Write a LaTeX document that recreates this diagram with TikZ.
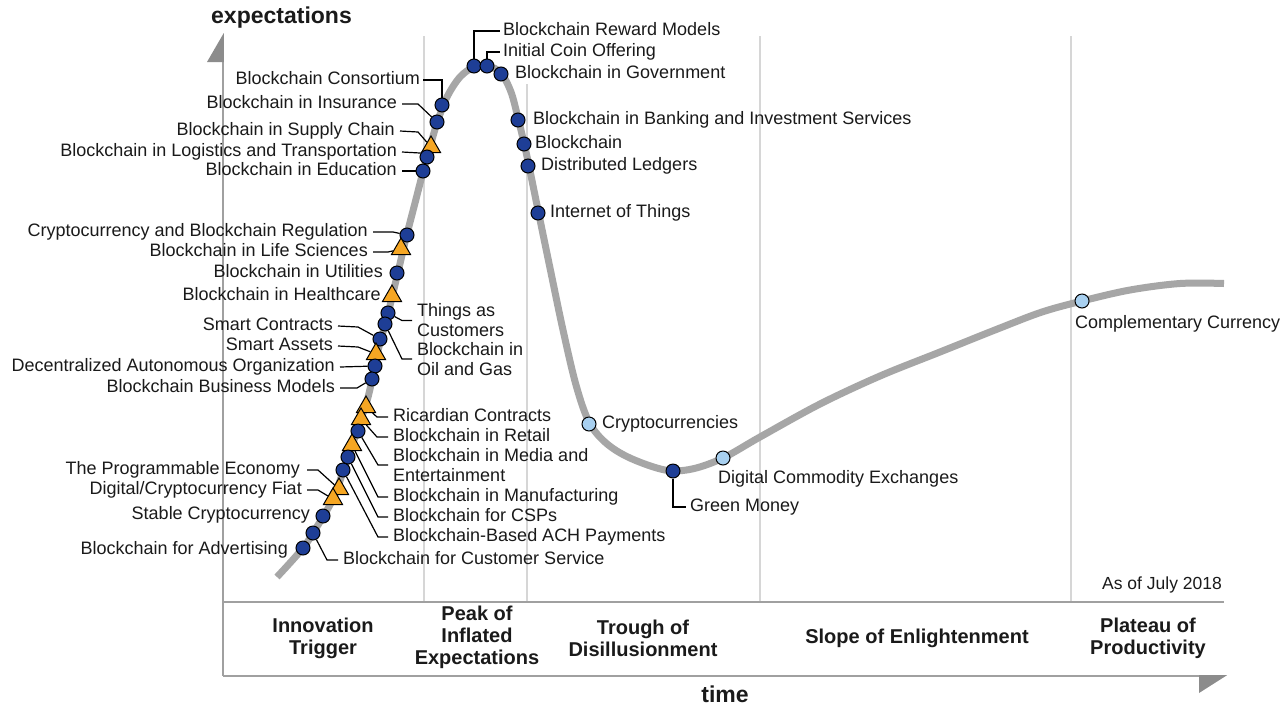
\documentclass[tikz,border=0pt]{standalone}
\usepackage{fontspec}
\setmainfont{Liberation Sans}
\usetikzlibrary{shapes.geometric}
\definecolor{txtc}{HTML}{1A1A1A}
\definecolor{dkblue}{RGB}{30,62,150}
\definecolor{ltblue}{RGB}{168,208,240}
\definecolor{orng}{RGB}{245,166,35}
\definecolor{curvec}{RGB}{166,166,166}
\definecolor{axisc}{RGB}{160,160,160}
\definecolor{arrowc}{RGB}{140,140,140}
\definecolor{sepc}{RGB}{214,214,214}
\pgfdeclarelayer{back}
\pgfdeclarelayer{mid}
\pgfsetlayers{back,mid,main}

\begin{document}
\begin{tikzpicture}[x=1pt,y=-1pt,
  lbl/.style={inner sep=0pt, text height=13pt, text depth=4pt,
    font=\fontsize{18}{20}\selectfont, text=txtc},
  lbltwo/.style={inner sep=0pt, align=left,
    font=\fontsize{18}{20}\selectfont, text=txtc},
  phase/.style={inner sep=0pt, align=center,
    font=\fontsize{20}{22}\selectfont\bfseries, text=txtc},
  axislabel/.style={inner sep=0pt, font=\fontsize{23}{26}\selectfont\bfseries, text=txtc},
  dotd/.style={circle, draw=black, line width=1pt, fill=dkblue,
    minimum size=14pt, inner sep=0pt},
  dotl/.style={dotd, fill=ltblue},
  tri/.style={regular polygon, regular polygon sides=3, draw=black,
    line width=1pt, fill=orng, minimum size=22pt, inner sep=0pt},
  leader/.style={draw=black, line width=1.2pt, line join=miter},
  sepline/.style={draw=sepc, line width=2pt},
  axisline/.style={draw=axisc, line width=2.5pt},
  hype/.style={draw=curvec, line width=7pt}
]
\useasboundingbox (0,0) rectangle (1284,705);

% ---- white sheet, phase separators, axes, arrowheads
\begin{pgfonlayer}{back}
  \fill[white] (0,0) rectangle (1284,705);
  \draw[sepline] (424,36) -- (424,602);
  \draw[sepline] (527,84) -- (527,602);
  \draw[sepline] (760,36) -- (760,602);
  \draw[sepline] (1071,36) -- (1071,602);
  \draw[axisline] (223,61) -- (223,676);
  \draw[axisline] (223,602) -- (1224,602);
  \draw[axisline] (223,676) -- (1200,676);
  \fill[arrowc] (223.8,33) -- (223.8,62) -- (207,62) -- cycle;
  \fill[arrowc] (1227,675.2) -- (1199,675.2) -- (1199,693) -- cycle;
\end{pgfonlayer}

\node[axislabel, anchor=west] (ylab) at (211,18) {expectations};
\node[axislabel] (xlab) at (725,694) {time};
\node[inner sep=0pt, anchor=east, text height=13pt, text depth=4pt,
  font=\fontsize{17.5}{20}\selectfont, text=txtc] (asof) at (1222,585) {As of July 2018};

% ---- phase names
\node[phase] (ph1) at (323,638) {Innovation\\Trigger};
\node[phase] (ph2) at (477,637) {Peak of\\Inflated\\Expectations};
\node[phase] (ph3) at (643,638) {Trough of\\Disillusionment};
\node[phase] (ph4) at (917,638) {Slope of Enlightenment};
\node[phase] (ph5) at (1148,638) {Plateau of\\Productivity};

% ---- hype cycle curve
\begin{pgfonlayer}{mid}
\draw[hype] plot[smooth, tension=0.55] coordinates {
  (277,577) (303,548) (318,525) (333,499) (343,472) (352,446) (361,419)
  (367,401) (372,380) (376,359) (381,339) (387,318) (393,293) (399,268)
  (406,238) (415,203) (423,172) (430,147) (437,123) (447,97) (460,77)
  (474,67) (488,66) (501,73) (511,92) (518,118) (524,143) (529,166)
  (538,210) (550,268) (563,330) (576,385) (589,422) (606,443) (630,458)
  (665,470) (692,469) (723,458) (760,437) (820,404) (880,376) (940,352)
  (1000,328) (1042,312) (1082,301) (1130,290) (1180,283.5) (1224,283.5)};
\end{pgfonlayer}

% ---- markers, peak and slide
\node[dotd] (mReward) at (474,66) {};
\node[dotd] (mICO) at (487,66) {};
\node[dotd] (mGov) at (501,74) {};
\node[dotd] (mBank) at (518,120) {};
\node[dotd] (mChain) at (524,144) {};
\node[dotd] (mDL) at (528,166) {};
\node[dotd] (mIoT) at (538,213) {};
\node[dotl] (mCryp) at (589,424) {};
\node[dotd] (mGreen) at (673,471) {};
\node[dotl] (mDCE) at (723,458) {};
\node[dotl] (mComp) at (1082,301) {};

% ---- markers, rising edge (top to bottom)
\node[dotd] (mCons) at (442,105) {};
\node[dotd] (mIns) at (437,122) {};
\node[tri] (mSupply) at (431,147) {};
\node[dotd] (mLogi) at (427,157) {};
\node[dotd] (mEdu) at (423,171) {};
\node[dotd] (mReg) at (407,235) {};
\node[tri] (mLife) at (401,249) {};
\node[dotd] (mUtil) at (397,273) {};
\node[tri] (mHealth) at (392,296) {};
\node[dotd] (mThings) at (388,313) {};
\node[dotd] (mOil) at (385,324) {};
\node[dotd] (mSContr) at (380,339) {};
\node[tri] (mSAssets) at (376,354) {};
\node[dotd] (mDAO) at (375,366) {};
\node[dotd] (mBBM) at (372,379) {};
\node[tri] (mRicard) at (366,407) {};
\node[tri] (mRetail) at (361,419) {};
\node[dotd] (mMedia) at (358,431) {};
\node[tri] (mManuf) at (352,445) {};
\node[dotd] (mCSP) at (348,457) {};
\node[dotd] (mACH) at (343,470) {};
\node[tri] (mProg) at (339,489) {};
\node[tri] (mFiat) at (333,499) {};
\node[dotd] (mStable) at (323,516) {};
\node[dotd] (mCust) at (313,533) {};
\node[dotd] (mAdv) at (303,548) {};

% ---- labels on the left of the curve
\node[lbl, anchor=east] (lCons) at (420,80) {Blockchain Consortium};
\node[lbl, anchor=east] (lIns) at (397,104) {Blockchain in Insurance};
\node[lbl, anchor=east] (lSupply) at (395,131) {Blockchain in Supply Chain};
\node[lbl, anchor=east] (lLogi) at (397,152) {Blockchain in Logistics and Transportation};
\node[lbl, anchor=east] (lEdu) at (397,171) {Blockchain in Education};
\node[lbl, anchor=east] (lReg) at (368,232) {Cryptocurrency and Blockchain Regulation};
\node[lbl, anchor=east] (lLife) at (368,252) {Blockchain in Life Sciences};
\node[lbl, anchor=east] (lUtil) at (383,273) {Blockchain in Utilities};
\node[lbl, anchor=east] (lHealth) at (381,296) {Blockchain in Healthcare};
\node[lbl, anchor=east] (lSContr) at (333,326) {Smart Contracts};
\node[lbl, anchor=east] (lSAssets) at (333,346) {Smart Assets};
\node[lbl, anchor=east] (lDAO) at (335,367) {Decentralized Autonomous Organization};
\node[lbl, anchor=east] (lBBM) at (335,388) {Blockchain Business Models};
\node[lbl, anchor=east] (lProg) at (300,470) {The Programmable Economy};
\node[lbl, anchor=east] (lFiat) at (302,490) {Digital/Cryptocurrency Fiat};
\node[lbl, anchor=east] (lStable) at (310,515) {Stable Cryptocurrency};
\node[lbl, anchor=east] (lAdv) at (288,550) {Blockchain for Advertising};

% ---- labels on the right of the curve
\node[lbl, anchor=west] (lReward) at (503,31) {Blockchain Reward Models};
\node[lbl, anchor=west] (lICO) at (503,52) {Initial Coin Offering};
\node[lbl, anchor=west] (lGov) at (515,74) {Blockchain in Government};
\node[lbl, anchor=west] (lBank) at (533,120) {Blockchain in Banking and Investment Services};
\node[lbl, anchor=west] (lChain) at (535,144) {Blockchain};
\node[lbl, anchor=west] (lDL) at (541,166) {Distributed Ledgers};
\node[lbl, anchor=west] (lIoT) at (550,213) {Internet of Things};
\node[lbltwo, anchor=west] (lThings) at (417,320.5) {Things as\\Customers};
\node[lbltwo, anchor=west] (lOil) at (417,359) {Blockchain in\\Oil and Gas};
\node[lbl, anchor=west] (lRicard) at (393,417) {Ricardian Contracts};
\node[lbl, anchor=west] (lRetail) at (393,437) {Blockchain in Retail};
\node[lbltwo, anchor=west] (lMedia) at (393,465) {Blockchain in Media and\\Entertainment};
\node[lbl, anchor=west] (lManuf) at (393,497) {Blockchain in Manufacturing};
\node[lbl, anchor=west] (lCSP) at (393,517) {Blockchain for CSPs};
\node[lbl, anchor=west] (lACH) at (393,537) {Blockchain-Based ACH Payments};
\node[lbl, anchor=west] (lCust) at (343,560) {Blockchain for Customer Service};
\node[lbl, anchor=west] (lCryp) at (602,424) {Cryptocurrencies};
\node[lbl, anchor=west] (lGreen) at (690,507) {Green Money};
\node[lbl, anchor=west] (lDCE) at (718,479) {Digital Commodity Exchanges};
\node[lbl, anchor=west] (lComp) at (1075,324) {Complementary Currency};

% ---- leader lines
\begin{pgfonlayer}{mid}
\draw[leader] ([xshift=3pt]lCons.east) -| (mCons);
\draw[leader] ([xshift=5pt]lIns.east) -- ++(16,0) -- (mIns);
\draw[leader] ([xshift=5pt]lSupply.east) -- ++(18,1) -- (mSupply);
\draw[leader] ([xshift=5pt]lLogi.east) -- ++(18,1) -- (mLogi);
\draw[leader] ([xshift=5pt]lEdu.east) -- (mEdu);
\draw[leader] ([xshift=5pt]lReg.east) -- ++(20,0) -- (mReg);
\draw[leader] ([xshift=5pt]lLife.east) -- ++(15,0) -- (mLife);
\draw[leader] ([xshift=5pt]lSContr.east) -- ++(20,1) -- (mSContr);
\draw[leader] ([xshift=5pt]lSAssets.east) -- ++(20,1) -- (mSAssets);
\draw[leader] ([xshift=5pt]lDAO.east) -- (mDAO);
\draw[leader] ([xshift=5pt]lBBM.east) -- ++(17,0) -- (mBBM);
\draw[leader] ([xshift=7pt]lProg.east) -- ++(11,0) -- (mProg);
\draw[leader] ([xshift=5pt]lFiat.east) -- ++(11,0) -- (mFiat);
\draw[leader] (mReward) |- ([xshift=-3pt]lReward.west);
\draw[leader] (mICO) |- ([xshift=-3pt]lICO.west);
\draw[leader] ([xshift=-5pt]lThings.west) -- ++(-10,0) -- (mThings);
\draw[leader] ([xshift=-5pt]lOil.west) -- ++(-10,0) -- (mOil);
\draw[leader] ([xshift=-5pt]lRicard.west) -- ++(-11,0) -- (mRicard);
\draw[leader] ([xshift=-5pt]lRetail.west) -- ++(-11,0) -- (mRetail);
\draw[leader] ([xshift=-5pt]lMedia.west) -- ++(-10,0) -- (mMedia);
\draw[leader] ([xshift=-5pt]lManuf.west) -- ++(-10,0) -- (mManuf);
\draw[leader] ([xshift=-5pt]lCSP.west) -- ++(-10,0) -- (mCSP);
\draw[leader] ([xshift=-5pt]lACH.west) -- ++(-10,0) -- (mACH);
\draw[leader] ([xshift=-5pt]lCust.west) -- ++(-11,0) -- (mCust);
\draw[leader] (mGreen) |- ([xshift=-4pt]lGreen.west);
\end{pgfonlayer}
\end{tikzpicture}
\end{document}
